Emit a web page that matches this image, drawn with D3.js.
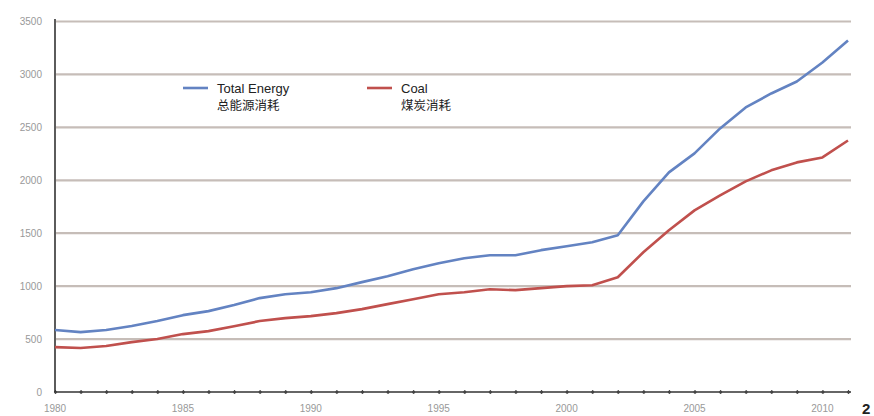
<!DOCTYPE html>
<html>
<head>
<meta charset="utf-8">
<script src="https://cdn.jsdelivr.net/npm/d3@7"></script>
<style>
html,body{margin:0;padding:0;background:#fff;}
svg{display:block;}
</style>
</head>
<body>
<svg id="chart" width="874" height="416"></svg>
<script>
const years = d3.range(1980, 2012);
const totalEnergy = [585, 566, 585, 623, 670, 726, 764, 821, 887, 924, 943, 981, 1038, 1094, 1160, 1217, 1264, 1292, 1292, 1340, 1377, 1415, 1481, 1801, 2075, 2254, 2490, 2688, 2820, 2933, 3112, 3320];
const coal = [424, 415, 434, 471, 500, 547, 575, 622, 670, 698, 717, 745, 783, 830, 877, 924, 943, 971, 962, 981, 1000, 1009, 1084, 1320, 1528, 1716, 1858, 1990, 2094, 2169, 2216, 2376];
const yTicks = [0, 500, 1000, 1500, 2000, 2500, 3000, 3500];
const xTickLabels = [1980, 1985, 1990, 1995, 2000, 2005, 2010];
const seriesNames = [["Total Energy", "总能源消耗"], ["Coal", "煤炭消耗"]];
const seriesColors = ["#6383c2", "#c0504d"];
const edgeLabel = "2";

const svg = d3.select("#chart");
const x = d3.scaleLinear().domain([1980, 2011]).range([55, 848]);
const y = d3.scaleLinear().domain([0, 3500]).range([392, 21.5]);

// gridlines
svg.append("g").selectAll("line").data(yTicks.slice(1)).join("line")
  .attr("x1", 56).attr("x2", 851)
  .attr("y1", d => y(d)).attr("y2", d => y(d))
  .attr("stroke", "#c6bdb8").attr("stroke-width", 2.2);

// y axis labels
svg.append("g").selectAll("text").data(yTicks).join("text")
  .attr("x", 42).attr("y", d => y(d) + 3.5)
  .attr("text-anchor", "end")
  .attr("font-family", "Liberation Sans, Arial, sans-serif")
  .attr("font-size", 10).attr("fill", "#999")
  .text(d => d);

// x axis with yearly ticks
const xAxis = d3.axisBottom(x).tickValues(years).tickSize(3).tickFormat("");
const gx = svg.append("g").attr("transform", "translate(0,392)").call(xAxis);
gx.select(".domain").attr("stroke", "#333").attr("stroke-width", 1.6).attr("d", "M55,0H851");
gx.selectAll(".tick line").attr("stroke", "#555").attr("y1", -2).attr("y2", 2);
gx.selectAll(".tick").append("circle").attr("r", 1.6).attr("fill", "#444");

svg.append("g").selectAll("text").data(xTickLabels).join("text")
  .attr("x", d => x(d)).attr("y", 412)
  .attr("text-anchor", "middle")
  .attr("font-family", "Liberation Sans, Arial, sans-serif")
  .attr("font-size", 10).attr("fill", "#999")
  .text(d => d);

// y axis line
svg.append("line").attr("x1", 55).attr("x2", 55).attr("y1", 19).attr("y2", 392)
  .attr("stroke", "#333").attr("stroke-width", 1.6);

// lines
const line = d3.line().x((d, i) => x(years[i])).y(d => y(d));
[totalEnergy, coal].forEach((s, i) => {
  svg.append("path").datum(s)
    .attr("fill", "none").attr("stroke", seriesColors[i]).attr("stroke-width", 2.6)
    .attr("stroke-linejoin", "round").attr("d", line);
});

// legend
const legX = [183, 367];
seriesNames.forEach((n, i) => {
  const g = svg.append("g").attr("transform", `translate(${legX[i]},88)`);
  g.append("line").attr("x1", 0).attr("x2", 25).attr("y1", 0).attr("y2", 0)
    .attr("stroke", seriesColors[i]).attr("stroke-width", 2.6);
  g.append("text").attr("x", 34).attr("y", 5)
    .attr("font-family", "Liberation Sans, Arial, sans-serif").attr("font-size", 13)
    .attr("fill", "#222").text(n[0]);
  g.append("text").attr("x", 34).attr("y", 22)
    .attr("font-family", "Noto Sans CJK SC, sans-serif").attr("font-size", 12.5)
    .attr("fill", "#222").text(n[1]);
});

// label fragment at the right edge
svg.append("text").attr("x", 862).attr("y", 414)
  .attr("font-family", "Liberation Sans, Arial, sans-serif").attr("font-size", 15)
  .attr("font-weight", "bold").attr("fill", "#222").text(edgeLabel);
</script>
</body>
</html>
